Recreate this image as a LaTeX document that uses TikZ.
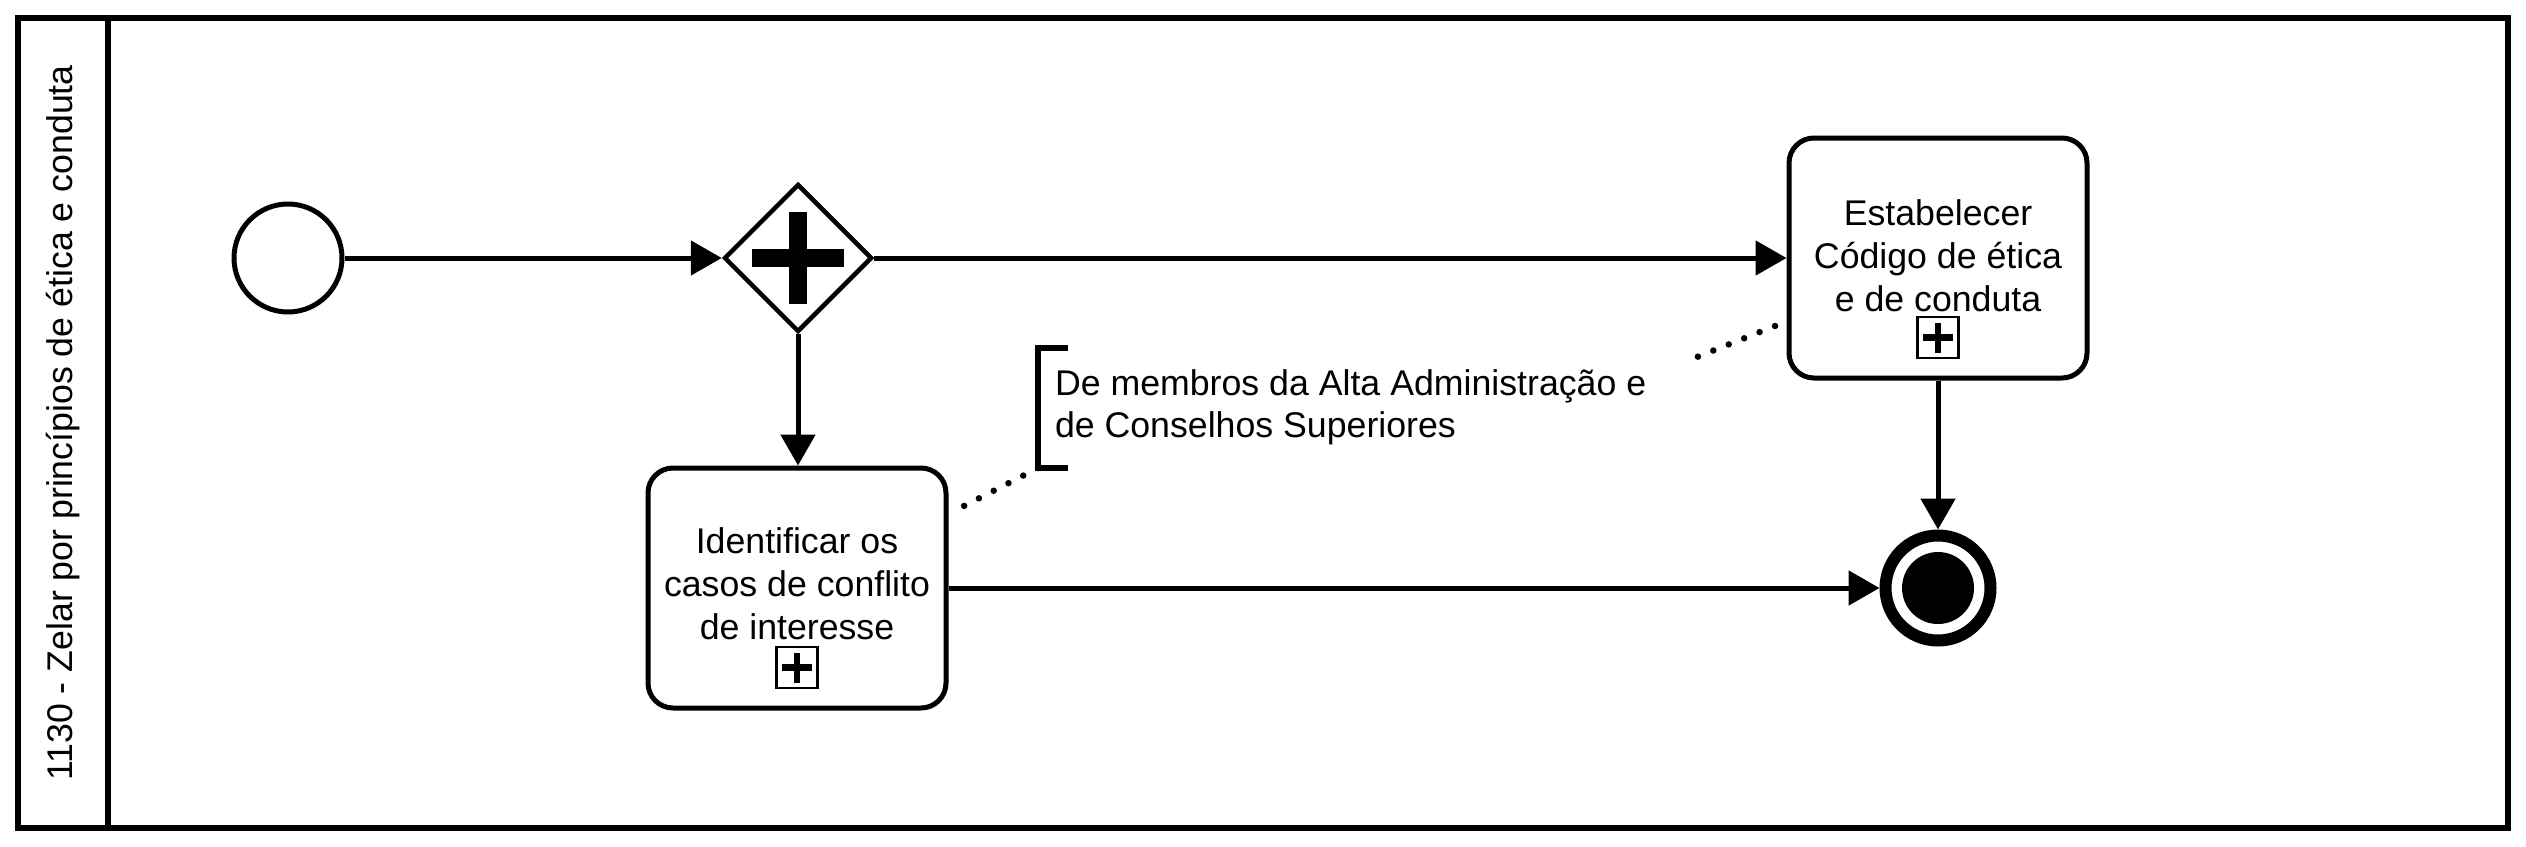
\documentclass[tikz,border=0pt]{standalone}
\usepackage{fontspec}
\setmainfont{Liberation Sans}
\usetikzlibrary{arrows.meta,shapes.geometric,calc}
\newcommand{\bpmnfont}{\fontsize{35.7}{42.8}\selectfont}
\tikzset{
  flow/.style={line width=5pt,-{Triangle[length=31pt,width=34pt]}},
  taskbox/.style={draw,line width=5pt,rounded corners=25pt,minimum width=298pt,minimum height=240pt,inner sep=0pt},
  tasktext/.style={anchor=north,inner sep=0pt,align=center,font=\bpmnfont},
  marker/.style={draw,line width=2.5pt,minimum size=41pt,inner sep=0pt},
  assoc/.style={line width=6.5pt,line cap=round,dash pattern=on 0pt off 16.6pt},
}
\begin{document}
\begin{tikzpicture}[x=1pt,y=-1pt]
\useasboundingbox (0,0) rectangle (2526,846);
\fill[white] (0,0) rectangle (2526,846);
% pool / lane
\node[draw,line width=6pt,minimum width=2490pt,minimum height=810pt,inner sep=0pt,outer sep=0pt] (pool) at (1263,423) {};
\draw[line width=5.5pt] ([xshift=90pt]pool.north west) -- ([xshift=90pt]pool.south west);
\node[rotate=90,font=\bpmnfont,inner sep=0pt] (lanelabel) at ([xshift=45pt]pool.west) {1130 - Zelar por princípios de ética e conduta};
% events and gateway
\node[draw,circle,line width=5pt,minimum size=108pt,inner sep=0pt] (start) at (288,258) {};
\node[draw,diamond,aspect=1,line width=4.5pt,minimum width=148pt,minimum height=148pt,inner sep=0pt] (gw) at (798,258) {};
\fill ([xshift=-9pt,yshift=46pt]gw.center) rectangle ([xshift=9pt,yshift=-46pt]gw.center);
\fill ([xshift=-46pt,yshift=9pt]gw.center) rectangle ([xshift=46pt,yshift=-9pt]gw.center);
\node[draw,circle,line width=12pt,minimum size=105pt,inner sep=0pt] (end) at (1938,588) {};
\fill (end.center) circle (36);
% tasks
\node[taskbox] (t1) at (797,588) {};
\node[tasktext] (t1text) at ([yshift=-58pt]t1.north) {\strut Identificar os\\casos de conflito\\de interesse};
\node[marker] (t1m) at ([yshift=-202pt]t1.north) {};
\draw[line width=6.5pt] ([xshift=-15pt]t1m.center) -- ([xshift=15pt]t1m.center);
\draw[line width=6.5pt] ([yshift=-15pt]t1m.center) -- ([yshift=15pt]t1m.center);
\node[taskbox] (t2) at (1938,258) {};
\node[tasktext] (t2text) at ([yshift=-60pt]t2.north) {\strut Estabelecer\\Código de ética\\e de conduta};
\node[marker] (t2m) at ([yshift=-202pt]t2.north) {};
\draw[line width=6.5pt] ([xshift=-15pt]t2m.center) -- ([xshift=15pt]t2m.center);
\draw[line width=6.5pt] ([yshift=-15pt]t2m.center) -- ([yshift=15pt]t2m.center);
% annotation
\node[anchor=north west,minimum height=120pt,inner xsep=17pt,inner ysep=0pt,outer sep=0pt,align=left,font=\bpmnfont] (ann) at (1038,348)
  {\strut De membros da Alta Administração e\\de Conselhos Superiores\strut};
\draw[line width=6pt] ([xshift=30pt]ann.north west) -- (ann.north west) -- (ann.south west) -- ([xshift=30pt]ann.south west);
% flows
\draw[flow] (start) -- (gw);
\draw[flow] (gw) -- (t2);
\draw[flow] (gw.south) -- (gw.south |- t1.north);
\draw[flow] (t1) -- (end);
\draw[flow] (t2) -- (end);
% associations
\coordinate (as1) at (960,508);
\coordinate (as2a) at (1697,357);
\coordinate (as2b) at (1775,326);
\draw[assoc] (ann.south west) -- (as1);
\draw[assoc] (as2b) -- (as2a);
\end{tikzpicture}
\end{document}
